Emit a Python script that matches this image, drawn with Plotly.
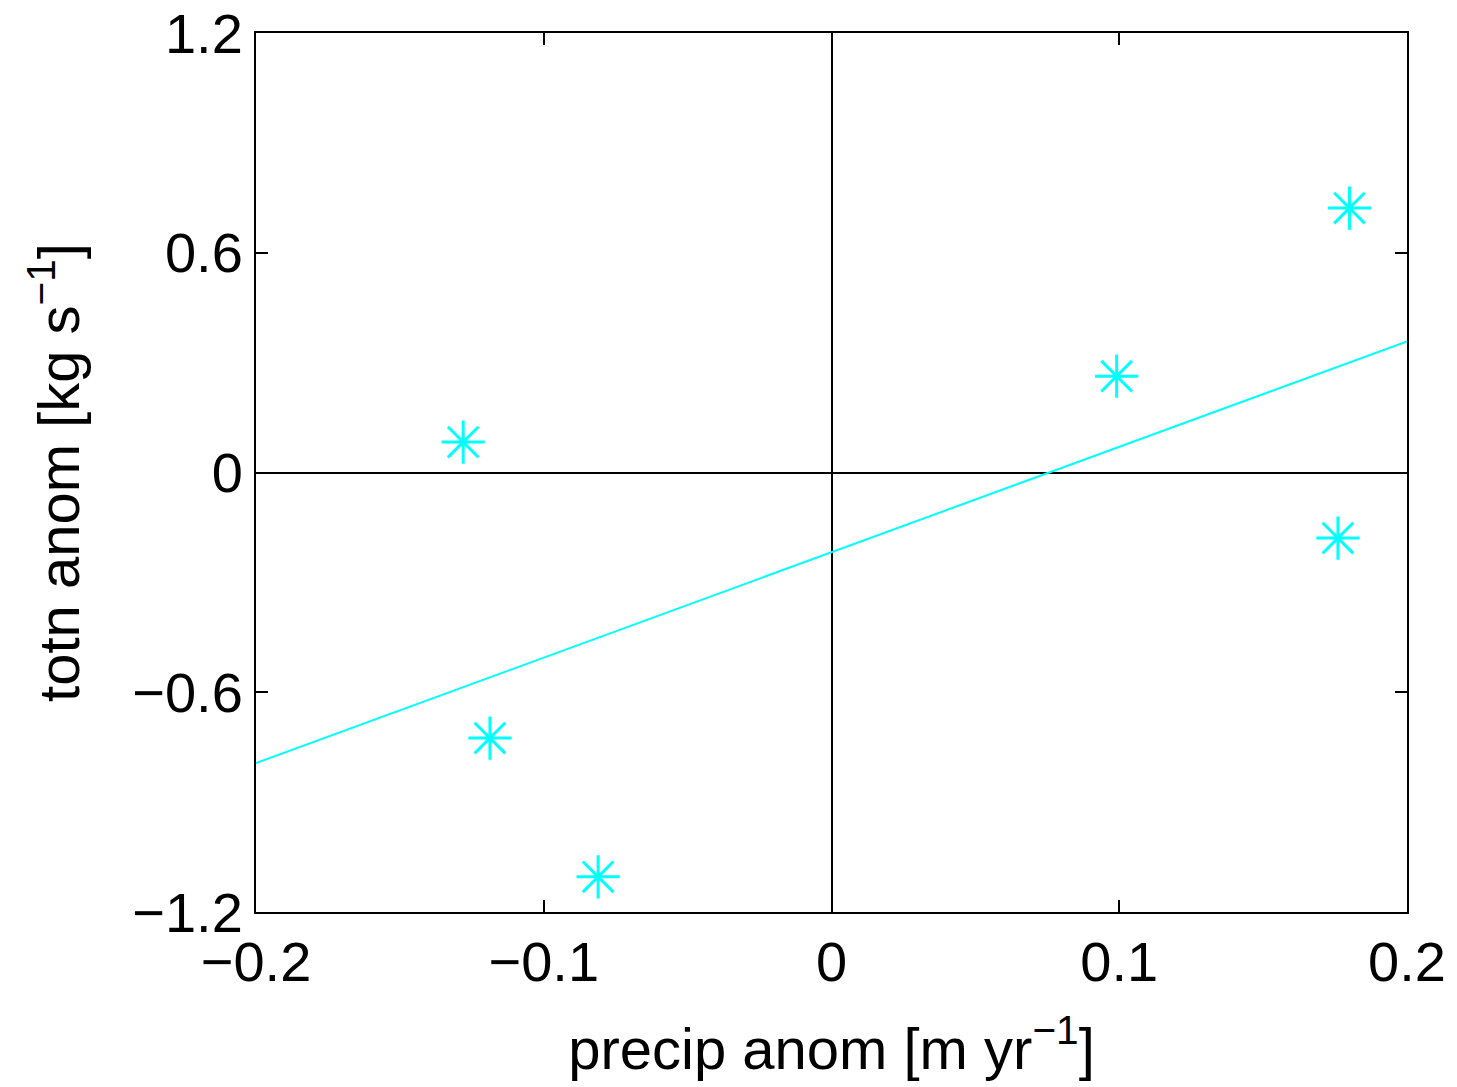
import numpy as np
import plotly.graph_objects as go

precip_anom = [-0.128, -0.1187, -0.0811, 0.0991, 0.180, 0.176]
totn_anom = [0.083, -0.725, -1.104, 0.263, 0.722, -0.179]
x_ticks = [-0.2, -0.1, 0, 0.1, 0.2]
y_ticks = [-1.2, -0.6, 0, 0.6, 1.2]
x_range = [-0.2, 0.2]
y_range = [-1.2, 1.2]

slope, intercept = np.polyfit(precip_anom, totn_anom, 1)
fit_x = np.array(x_range)
fit_y = slope * fit_x + intercept

CYAN = "#00FFFF"
FONT = "Liberation Sans, Arial, sans-serif"

fig = go.Figure()
fig.add_trace(go.Scatter(
    x=fit_x, y=fit_y, mode="lines",
    line=dict(color=CYAN, width=2), showlegend=False, hoverinfo="skip"))
fig.add_trace(go.Scatter(
    x=precip_anom, y=totn_anom, mode="markers",
    marker=dict(symbol="asterisk-open", size=36, color=CYAN,
                line=dict(color=CYAN, width=3)),
    showlegend=False))

axis_common = dict(
    showgrid=False, zeroline=True, zerolinecolor="black", zerolinewidth=1.5,
    showline=True, linecolor="black", linewidth=2, mirror="ticks",
    ticks="inside", ticklen=12, tickwidth=1.5, tickcolor="black",
    tickfont=dict(family=FONT, size=56, color="black"),
)

fig.update_xaxes(range=x_range, tickvals=x_ticks,
                 ticktext=[f"{v:g}".replace("-", "\u2212") for v in x_ticks],
                 title=dict(text="precip anom [m yr<sup>\u22121</sup>]",
                            font=dict(family=FONT, size=58, color="black"),
                            standoff=36),
                 **axis_common)
fig.update_yaxes(range=y_range, tickvals=y_ticks,
                 ticktext=[f"{v:g}".replace("-", "\u2212") for v in y_ticks],
                 title=dict(text="totn anom [kg s<sup>\u22121</sup>]",
                            font=dict(family=FONT, size=58, color="black"),
                            standoff=34),
                 **axis_common)

fig.update_layout(
    width=1457, height=1087,
    margin=dict(l=256, r=50, t=33, b=175, autoexpand=False),
    plot_bgcolor="white", paper_bgcolor="white",
)

fig.write_html("out.html")
